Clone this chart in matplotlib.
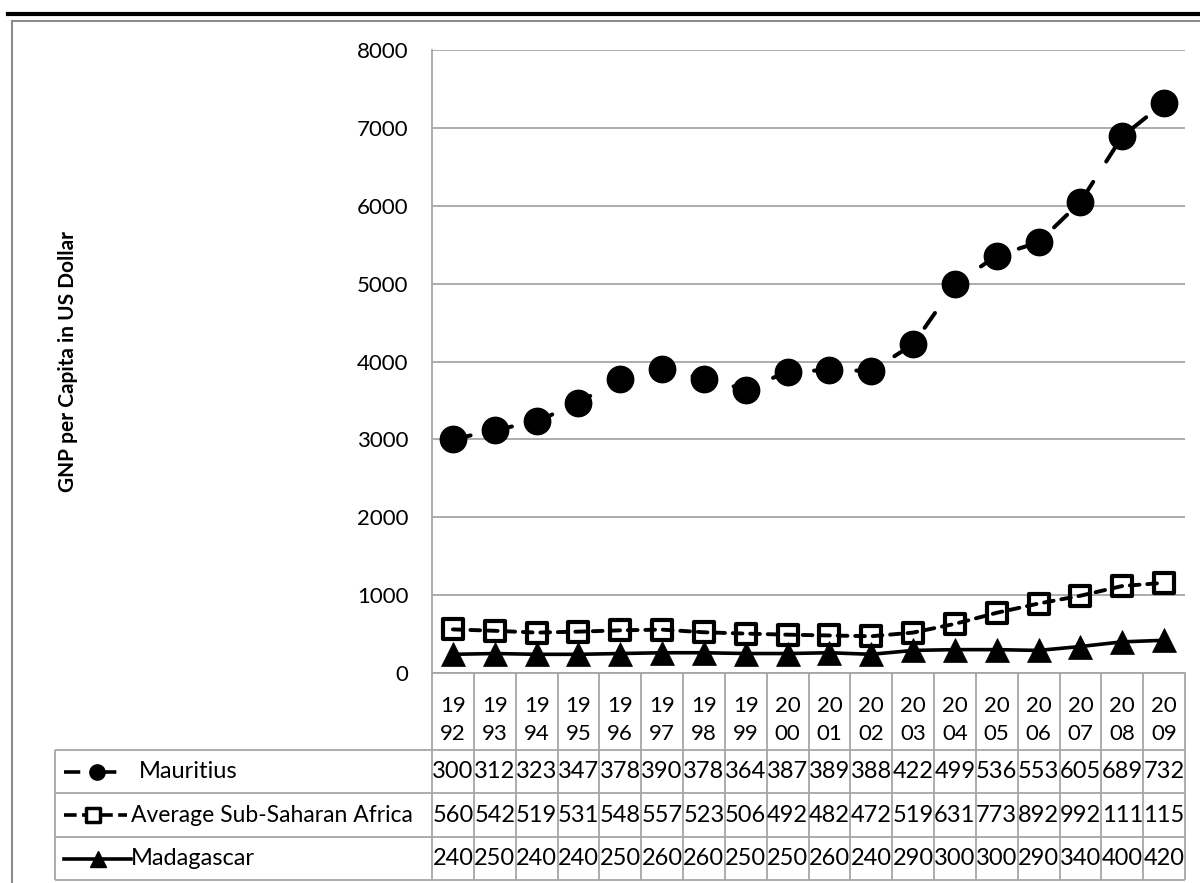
import matplotlib
matplotlib.use("Agg")
import matplotlib.pyplot as plt
from matplotlib.lines import Line2D
from matplotlib.markers import MarkerStyle
from matplotlib.transforms import blended_transform_factory

plt.rcParams['font.family'] = ['Lato', 'DejaVu Sans']

years = ['1992', '1993', '1994', '1995', '1996', '1997', '1998', '1999', '2000',
         '2001', '2002', '2003', '2004', '2005', '2006', '2007', '2008', '2009']
mauritius = [3000, 3120, 3230, 3470, 3780, 3900, 3780, 3640, 3870,
             3890, 3880, 4220, 4990, 5360, 5530, 6050, 6890, 7320]
ssa_avg = [560, 542, 519, 531, 548, 557, 523, 506, 492,
           482, 472, 519, 631, 773, 892, 992, 1117, 1158]
madagascar = [240, 250, 240, 240, 250, 260, 260, 250, 250,
              260, 240, 290, 300, 300, 290, 340, 400, 420]
names = ['Mauritius', 'Average Sub-Saharan Africa', 'Madagascar']

W, H = 1200, 883
GRID = '#a6a6a6'

fig = plt.figure(figsize=(12, 8.83), dpi=100)

# pixel-space layer for the frame, data table and legend keys
bg = fig.add_axes([0, 0, 1, 1])
bg.set_xlim(0, W)
bg.set_ylim(H, 0)
bg.axis('off')

ax = fig.add_axes([432 / W, 1 - 673 / H, (1185 - 432) / W, (673 - 50) / H])
ax.patch.set_visible(False)

x = list(range(len(years)))
sq = MarkerStyle('s', joinstyle='round')
ax.plot(x, mauritius, color='black', lw=2.9, ls=(0, (4.5, 6)), dash_capstyle='round',
        marker='o', ms=19, mfc='black', mew=1, clip_on=False)
ax.plot(x, ssa_avg, color='black', lw=2.8, ls=(0, (2.5, 2)), dash_capstyle='round',
        marker=sq, ms=15, mfc='none', mew=3, clip_on=False)
ax.plot(x, madagascar, color='black', lw=2.6, ls='-',
        marker='^', ms=17, mfc='black', mew=0.5, clip_on=False)

ax.set_xlim(-0.5, len(years) - 0.5)
ax.set_ylim(0, 8000)
ax.set_yticks(range(0, 8001, 1000))
ax.yaxis.grid(True, color=GRID, lw=1.3)
ax.set_axisbelow(True)
for s in ['top', 'right']:
    ax.spines[s].set_visible(False)
for s in ['left', 'bottom']:
    ax.spines[s].set_color(GRID)
    ax.spines[s].set_linewidth(1.3)
ax.tick_params(axis='y', length=0, pad=17, labelsize=16)
ax.set_xticks(x)
ax.set_xticklabels([y[:2] + '\n' + y[2:] for y in years], fontsize=16, linespacing=1.5)
ax.tick_params(axis='x', length=0, pad=16.5)

# data table under the chart
trans = blended_transform_factory(ax.transData, bg.transData)
right_px = 1185
rows = [750, 793, 837, 880]
bg.vlines([i - 0.5 for i in range(len(years) + 1)], 673, 880, color=GRID, lw=1.3,
          transform=trans)
bg.hlines(rows, 55, right_px, color=GRID, lw=1.3)
bg.vlines([55], 750, 880, color=GRID, lw=1.3)

for r, vals in enumerate([mauritius, ssa_avg, madagascar]):
    yc = (rows[r] + rows[r + 1]) / 2
    for i, v in enumerate(vals):
        bg.text(i, yc, str(v)[:3], transform=trans, ha='center', va='center', fontsize=17)

# legend keys in the first table column
k1 = (rows[0] + rows[1]) / 2
k2 = (rows[1] + rows[2]) / 2
k3 = (rows[2] + rows[3]) / 2
bg.add_line(Line2D([64, 97, 123], [k1] * 3, color='black', lw=2.6, ls=(0, (4.5, 5.5)),
                   marker='o', ms=11, markevery=[1]))
bg.add_line(Line2D([64, 93, 127], [k2] * 3, color='black', lw=2.6, ls=(0, (3.5, 1.5)),
                   marker=sq, ms=9.5, mfc='white', mew=2.5, markevery=[1]))
bg.add_line(Line2D([64, 98, 131], [k3] * 3, color='black', lw=2.6,
                   marker='^', ms=11, markevery=[1]))
bg.text(139, k1, names[0], ha='left', va='center', fontsize=17)
bg.text(131, k2, names[1], ha='left', va='center', fontsize=16.5)
bg.text(131, k3, names[2], ha='left', va='center', fontsize=17)

bg.text(68, 361, 'GNP per Capita in US Dollar', rotation=90, fontweight='bold',
        fontsize=15, ha='center', va='center')

# outer frame and top rule
bg.plot([12, W], [21, 21], color='#8c8c8c', lw=1.5)
bg.plot([12, 12], [21, H], color='#8c8c8c', lw=1.5)
bg.plot([8, W], [13.5, 13.5], color='black', lw=3)

fig.savefig('out.png', dpi=100)
